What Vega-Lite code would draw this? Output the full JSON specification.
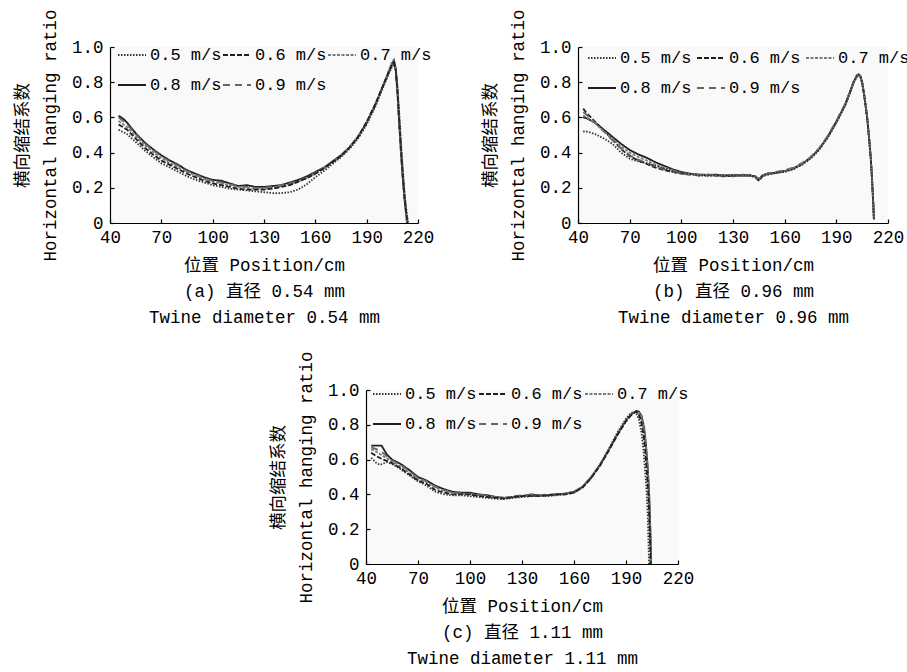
{
  "$schema": "https://vega.github.io/schema/vega-lite/v6.json",
  "autosize": "none",
  "padding": {"left": 110, "top": 47, "right": 797, "bottom": 625},
  "background": "white",
  "config": {
    "view": {"fill": "#f9f9f9", "stroke": null},
    "font": "Liberation Mono, Noto Sans CJK SC",
    "axis": {
      "grid": false, "domainColor": "#000", "domainWidth": 1.2, "tickColor": "#000", "tickSize": -4, "tickWidth": 1.2,
      "labelFont": "Liberation Mono, Noto Sans CJK SC", "labelFontSize": 17.5, "labelColor": "#000",
      "titleFont": "Liberation Mono, Noto Sans CJK SC", "titleFontSize": 17.5, "titleFontWeight": "normal", "titleColor": "#000"
    },
    "axisX": {"labelPadding": 9, "titlePadding": 11, "titleLineHeight": 26, "labelFlush": false},
    "axisY": {"labelPadding": 11, "titlePadding": 12, "titleLineHeight": 28},
    "legend": {
      "orient": "none", "direction": "horizontal", "columns": 3, "symbolType": "stroke", "symbolSize": 784,
      "symbolStrokeWidth": 1.8, "labelFont": "Liberation Mono, Noto Sans CJK SC", "labelFontSize": 17, "labelColor": "#000",
      "labelOffset": 3, "columnPadding": 3, "rowPadding": 7, "padding": 0, "title": null
    },
    "line": {"strokeWidth": 1.8}
  },
  "datasets": {
    "a": [
      {"s":"0.8 m/s","x":45,"y":0.61},{"s":"0.8 m/s","x":48,"y":0.59},{"s":"0.8 m/s","x":50,"y":0.57},{"s":"0.8 m/s","x":55,"y":0.51},{"s":"0.8 m/s","x":60,"y":0.46},{"s":"0.8 m/s","x":65,"y":0.42},{"s":"0.8 m/s","x":70,"y":0.385},{"s":"0.8 m/s","x":75,"y":0.355},{"s":"0.8 m/s","x":80,"y":0.33},{"s":"0.8 m/s","x":85,"y":0.3},{"s":"0.8 m/s","x":90,"y":0.28},{"s":"0.8 m/s","x":95,"y":0.26},{"s":"0.8 m/s","x":100,"y":0.245},{"s":"0.8 m/s","x":105,"y":0.24},{"s":"0.8 m/s","x":110,"y":0.225},{"s":"0.8 m/s","x":115,"y":0.21},{"s":"0.8 m/s","x":120,"y":0.215},{"s":"0.8 m/s","x":125,"y":0.205},{"s":"0.8 m/s","x":130,"y":0.205},{"s":"0.8 m/s","x":135,"y":0.21},{"s":"0.8 m/s","x":140,"y":0.215},{"s":"0.8 m/s","x":145,"y":0.23},{"s":"0.8 m/s","x":150,"y":0.245},{"s":"0.8 m/s","x":155,"y":0.265},{"s":"0.8 m/s","x":160,"y":0.29},{"s":"0.8 m/s","x":165,"y":0.315},{"s":"0.8 m/s","x":170,"y":0.35},{"s":"0.8 m/s","x":175,"y":0.385},{"s":"0.8 m/s","x":180,"y":0.43},{"s":"0.8 m/s","x":185,"y":0.49},{"s":"0.8 m/s","x":190,"y":0.57},{"s":"0.8 m/s","x":195,"y":0.67},{"s":"0.8 m/s","x":200,"y":0.79},{"s":"0.8 m/s","x":203,"y":0.86},{"s":"0.8 m/s","x":205,"y":0.91},{"s":"0.8 m/s","x":206,"y":0.92},{"s":"0.8 m/s","x":207,"y":0.87},{"s":"0.8 m/s","x":208,"y":0.74},{"s":"0.8 m/s","x":209,"y":0.57},{"s":"0.8 m/s","x":210,"y":0.41},{"s":"0.8 m/s","x":211,"y":0.27},{"s":"0.8 m/s","x":212,"y":0.15},{"s":"0.8 m/s","x":213,"y":0.06},{"s":"0.8 m/s","x":213.7,"y":0},
      {"s":"0.9 m/s","x":45,"y":0.6},{"s":"0.9 m/s","x":50,"y":0.56},{"s":"0.9 m/s","x":55,"y":0.505},{"s":"0.9 m/s","x":60,"y":0.455},{"s":"0.9 m/s","x":65,"y":0.415},{"s":"0.9 m/s","x":70,"y":0.38},{"s":"0.9 m/s","x":75,"y":0.35},{"s":"0.9 m/s","x":80,"y":0.325},{"s":"0.9 m/s","x":85,"y":0.295},{"s":"0.9 m/s","x":90,"y":0.275},{"s":"0.9 m/s","x":95,"y":0.255},{"s":"0.9 m/s","x":100,"y":0.24},{"s":"0.9 m/s","x":105,"y":0.23},{"s":"0.9 m/s","x":110,"y":0.22},{"s":"0.9 m/s","x":115,"y":0.21},{"s":"0.9 m/s","x":120,"y":0.205},{"s":"0.9 m/s","x":125,"y":0.2},{"s":"0.9 m/s","x":130,"y":0.2},{"s":"0.9 m/s","x":135,"y":0.205},{"s":"0.9 m/s","x":140,"y":0.215},{"s":"0.9 m/s","x":145,"y":0.225},{"s":"0.9 m/s","x":150,"y":0.24},{"s":"0.9 m/s","x":155,"y":0.26},{"s":"0.9 m/s","x":160,"y":0.285},{"s":"0.9 m/s","x":165,"y":0.315},{"s":"0.9 m/s","x":170,"y":0.345},{"s":"0.9 m/s","x":175,"y":0.385},{"s":"0.9 m/s","x":180,"y":0.43},{"s":"0.9 m/s","x":185,"y":0.49},{"s":"0.9 m/s","x":190,"y":0.57},{"s":"0.9 m/s","x":195,"y":0.67},{"s":"0.9 m/s","x":200,"y":0.79},{"s":"0.9 m/s","x":203,"y":0.86},{"s":"0.9 m/s","x":205,"y":0.9},{"s":"0.9 m/s","x":206,"y":0.91},{"s":"0.9 m/s","x":207,"y":0.86},{"s":"0.9 m/s","x":208,"y":0.73},{"s":"0.9 m/s","x":209,"y":0.56},{"s":"0.9 m/s","x":210,"y":0.4},{"s":"0.9 m/s","x":211,"y":0.26},{"s":"0.9 m/s","x":212,"y":0.14},{"s":"0.9 m/s","x":213,"y":0.05},{"s":"0.9 m/s","x":213.5,"y":0},
      {"s":"0.7 m/s","x":45,"y":0.58},{"s":"0.7 m/s","x":50,"y":0.545},{"s":"0.7 m/s","x":55,"y":0.495},{"s":"0.7 m/s","x":60,"y":0.445},{"s":"0.7 m/s","x":65,"y":0.405},{"s":"0.7 m/s","x":70,"y":0.37},{"s":"0.7 m/s","x":75,"y":0.34},{"s":"0.7 m/s","x":80,"y":0.315},{"s":"0.7 m/s","x":85,"y":0.29},{"s":"0.7 m/s","x":90,"y":0.27},{"s":"0.7 m/s","x":95,"y":0.25},{"s":"0.7 m/s","x":100,"y":0.235},{"s":"0.7 m/s","x":105,"y":0.225},{"s":"0.7 m/s","x":110,"y":0.215},{"s":"0.7 m/s","x":115,"y":0.205},{"s":"0.7 m/s","x":120,"y":0.2},{"s":"0.7 m/s","x":125,"y":0.195},{"s":"0.7 m/s","x":130,"y":0.195},{"s":"0.7 m/s","x":135,"y":0.2},{"s":"0.7 m/s","x":140,"y":0.21},{"s":"0.7 m/s","x":145,"y":0.22},{"s":"0.7 m/s","x":150,"y":0.235},{"s":"0.7 m/s","x":155,"y":0.255},{"s":"0.7 m/s","x":160,"y":0.28},{"s":"0.7 m/s","x":165,"y":0.31},{"s":"0.7 m/s","x":170,"y":0.345},{"s":"0.7 m/s","x":175,"y":0.38},{"s":"0.7 m/s","x":180,"y":0.43},{"s":"0.7 m/s","x":185,"y":0.49},{"s":"0.7 m/s","x":190,"y":0.57},{"s":"0.7 m/s","x":195,"y":0.67},{"s":"0.7 m/s","x":200,"y":0.79},{"s":"0.7 m/s","x":203,"y":0.87},{"s":"0.7 m/s","x":205,"y":0.92},{"s":"0.7 m/s","x":206,"y":0.93},{"s":"0.7 m/s","x":207,"y":0.88},{"s":"0.7 m/s","x":208,"y":0.76},{"s":"0.7 m/s","x":209,"y":0.6},{"s":"0.7 m/s","x":210,"y":0.44},{"s":"0.7 m/s","x":211,"y":0.3},{"s":"0.7 m/s","x":212,"y":0.17},{"s":"0.7 m/s","x":213,"y":0.07},{"s":"0.7 m/s","x":214,"y":0},
      {"s":"0.6 m/s","x":45,"y":0.56},{"s":"0.6 m/s","x":50,"y":0.53},{"s":"0.6 m/s","x":55,"y":0.48},{"s":"0.6 m/s","x":60,"y":0.43},{"s":"0.6 m/s","x":65,"y":0.39},{"s":"0.6 m/s","x":70,"y":0.355},{"s":"0.6 m/s","x":75,"y":0.33},{"s":"0.6 m/s","x":80,"y":0.305},{"s":"0.6 m/s","x":85,"y":0.28},{"s":"0.6 m/s","x":90,"y":0.26},{"s":"0.6 m/s","x":95,"y":0.24},{"s":"0.6 m/s","x":100,"y":0.225},{"s":"0.6 m/s","x":105,"y":0.215},{"s":"0.6 m/s","x":110,"y":0.205},{"s":"0.6 m/s","x":115,"y":0.195},{"s":"0.6 m/s","x":120,"y":0.19},{"s":"0.6 m/s","x":125,"y":0.19},{"s":"0.6 m/s","x":130,"y":0.19},{"s":"0.6 m/s","x":135,"y":0.195},{"s":"0.6 m/s","x":140,"y":0.205},{"s":"0.6 m/s","x":145,"y":0.215},{"s":"0.6 m/s","x":150,"y":0.235},{"s":"0.6 m/s","x":155,"y":0.255},{"s":"0.6 m/s","x":160,"y":0.28},{"s":"0.6 m/s","x":165,"y":0.31},{"s":"0.6 m/s","x":170,"y":0.345},{"s":"0.6 m/s","x":175,"y":0.38},{"s":"0.6 m/s","x":180,"y":0.43},{"s":"0.6 m/s","x":185,"y":0.49},{"s":"0.6 m/s","x":190,"y":0.575},{"s":"0.6 m/s","x":195,"y":0.675},{"s":"0.6 m/s","x":200,"y":0.79},{"s":"0.6 m/s","x":203,"y":0.86},{"s":"0.6 m/s","x":205,"y":0.9},{"s":"0.6 m/s","x":206,"y":0.91},{"s":"0.6 m/s","x":207,"y":0.87},{"s":"0.6 m/s","x":208,"y":0.75},{"s":"0.6 m/s","x":209,"y":0.59},{"s":"0.6 m/s","x":210,"y":0.43},{"s":"0.6 m/s","x":211,"y":0.29},{"s":"0.6 m/s","x":212,"y":0.16},{"s":"0.6 m/s","x":213,"y":0.07},{"s":"0.6 m/s","x":213.8,"y":0},
      {"s":"0.5 m/s","x":45,"y":0.53},{"s":"0.5 m/s","x":50,"y":0.505},{"s":"0.5 m/s","x":55,"y":0.46},{"s":"0.5 m/s","x":60,"y":0.415},{"s":"0.5 m/s","x":65,"y":0.375},{"s":"0.5 m/s","x":70,"y":0.34},{"s":"0.5 m/s","x":75,"y":0.315},{"s":"0.5 m/s","x":80,"y":0.29},{"s":"0.5 m/s","x":85,"y":0.265},{"s":"0.5 m/s","x":90,"y":0.245},{"s":"0.5 m/s","x":95,"y":0.23},{"s":"0.5 m/s","x":100,"y":0.215},{"s":"0.5 m/s","x":105,"y":0.205},{"s":"0.5 m/s","x":110,"y":0.195},{"s":"0.5 m/s","x":115,"y":0.19},{"s":"0.5 m/s","x":120,"y":0.185},{"s":"0.5 m/s","x":125,"y":0.18},{"s":"0.5 m/s","x":130,"y":0.175},{"s":"0.5 m/s","x":135,"y":0.17},{"s":"0.5 m/s","x":140,"y":0.17},{"s":"0.5 m/s","x":145,"y":0.175},{"s":"0.5 m/s","x":150,"y":0.19},{"s":"0.5 m/s","x":155,"y":0.22},{"s":"0.5 m/s","x":160,"y":0.26},{"s":"0.5 m/s","x":165,"y":0.295},{"s":"0.5 m/s","x":170,"y":0.335},{"s":"0.5 m/s","x":175,"y":0.375},{"s":"0.5 m/s","x":180,"y":0.42},{"s":"0.5 m/s","x":185,"y":0.48},{"s":"0.5 m/s","x":190,"y":0.56},{"s":"0.5 m/s","x":195,"y":0.66},{"s":"0.5 m/s","x":200,"y":0.78},{"s":"0.5 m/s","x":203,"y":0.85},{"s":"0.5 m/s","x":205,"y":0.89},{"s":"0.5 m/s","x":206,"y":0.9},{"s":"0.5 m/s","x":207,"y":0.88},{"s":"0.5 m/s","x":208,"y":0.78},{"s":"0.5 m/s","x":209,"y":0.63},{"s":"0.5 m/s","x":210,"y":0.47},{"s":"0.5 m/s","x":211,"y":0.32},{"s":"0.5 m/s","x":212,"y":0.19},{"s":"0.5 m/s","x":213,"y":0.09},{"s":"0.5 m/s","x":214,"y":0.02},{"s":"0.5 m/s","x":214.3,"y":0}
    ],
    "b": [
      {"s":"0.8 m/s","x":43,"y":0.6},{"s":"0.8 m/s","x":45,"y":0.595},{"s":"0.8 m/s","x":50,"y":0.57},{"s":"0.8 m/s","x":55,"y":0.53},{"s":"0.8 m/s","x":60,"y":0.49},{"s":"0.8 m/s","x":65,"y":0.45},{"s":"0.8 m/s","x":70,"y":0.415},{"s":"0.8 m/s","x":75,"y":0.39},{"s":"0.8 m/s","x":80,"y":0.37},{"s":"0.8 m/s","x":85,"y":0.345},{"s":"0.8 m/s","x":90,"y":0.325},{"s":"0.8 m/s","x":95,"y":0.305},{"s":"0.8 m/s","x":100,"y":0.29},{"s":"0.8 m/s","x":105,"y":0.28},{"s":"0.8 m/s","x":110,"y":0.275},{"s":"0.8 m/s","x":115,"y":0.27},{"s":"0.8 m/s","x":120,"y":0.275},{"s":"0.8 m/s","x":125,"y":0.27},{"s":"0.8 m/s","x":130,"y":0.27},{"s":"0.8 m/s","x":135,"y":0.27},{"s":"0.8 m/s","x":140,"y":0.27},{"s":"0.8 m/s","x":143,"y":0.265},{"s":"0.8 m/s","x":145,"y":0.245},{"s":"0.8 m/s","x":147,"y":0.27},{"s":"0.8 m/s","x":150,"y":0.28},{"s":"0.8 m/s","x":155,"y":0.285},{"s":"0.8 m/s","x":160,"y":0.295},{"s":"0.8 m/s","x":165,"y":0.31},{"s":"0.8 m/s","x":170,"y":0.335},{"s":"0.8 m/s","x":175,"y":0.37},{"s":"0.8 m/s","x":180,"y":0.42},{"s":"0.8 m/s","x":185,"y":0.49},{"s":"0.8 m/s","x":190,"y":0.575},{"s":"0.8 m/s","x":195,"y":0.67},{"s":"0.8 m/s","x":198,"y":0.745},{"s":"0.8 m/s","x":200,"y":0.8},{"s":"0.8 m/s","x":202,"y":0.84},{"s":"0.8 m/s","x":203,"y":0.845},{"s":"0.8 m/s","x":204,"y":0.835},{"s":"0.8 m/s","x":205,"y":0.8},{"s":"0.8 m/s","x":206,"y":0.74},{"s":"0.8 m/s","x":207,"y":0.67},{"s":"0.8 m/s","x":208,"y":0.59},{"s":"0.8 m/s","x":209,"y":0.49},{"s":"0.8 m/s","x":210,"y":0.37},{"s":"0.8 m/s","x":210.5,"y":0.29},{"s":"0.8 m/s","x":211,"y":0.2},{"s":"0.8 m/s","x":211.5,"y":0.1},{"s":"0.8 m/s","x":211.8,"y":0.03},
      {"s":"0.6 m/s","x":43,"y":0.65},{"s":"0.6 m/s","x":45,"y":0.625},{"s":"0.6 m/s","x":50,"y":0.575},{"s":"0.6 m/s","x":55,"y":0.525},{"s":"0.6 m/s","x":60,"y":0.475},{"s":"0.6 m/s","x":65,"y":0.42},{"s":"0.6 m/s","x":70,"y":0.38},{"s":"0.6 m/s","x":75,"y":0.355},{"s":"0.6 m/s","x":80,"y":0.335},{"s":"0.6 m/s","x":85,"y":0.315},{"s":"0.6 m/s","x":90,"y":0.3},{"s":"0.6 m/s","x":95,"y":0.29},{"s":"0.6 m/s","x":100,"y":0.28},{"s":"0.6 m/s","x":105,"y":0.275},{"s":"0.6 m/s","x":110,"y":0.275},{"s":"0.6 m/s","x":115,"y":0.275},{"s":"0.6 m/s","x":120,"y":0.27},{"s":"0.6 m/s","x":125,"y":0.265},{"s":"0.6 m/s","x":130,"y":0.27},{"s":"0.6 m/s","x":135,"y":0.275},{"s":"0.6 m/s","x":140,"y":0.27},{"s":"0.6 m/s","x":143,"y":0.26},{"s":"0.6 m/s","x":145,"y":0.24},{"s":"0.6 m/s","x":147,"y":0.265},{"s":"0.6 m/s","x":150,"y":0.28},{"s":"0.6 m/s","x":155,"y":0.285},{"s":"0.6 m/s","x":160,"y":0.295},{"s":"0.6 m/s","x":165,"y":0.31},{"s":"0.6 m/s","x":170,"y":0.335},{"s":"0.6 m/s","x":175,"y":0.37},{"s":"0.6 m/s","x":180,"y":0.42},{"s":"0.6 m/s","x":185,"y":0.49},{"s":"0.6 m/s","x":190,"y":0.575},{"s":"0.6 m/s","x":195,"y":0.67},{"s":"0.6 m/s","x":198,"y":0.745},{"s":"0.6 m/s","x":200,"y":0.8},{"s":"0.6 m/s","x":202,"y":0.835},{"s":"0.6 m/s","x":203,"y":0.84},{"s":"0.6 m/s","x":204,"y":0.83},{"s":"0.6 m/s","x":205,"y":0.795},{"s":"0.6 m/s","x":206,"y":0.735},{"s":"0.6 m/s","x":207,"y":0.665},{"s":"0.6 m/s","x":208,"y":0.585},{"s":"0.6 m/s","x":209,"y":0.48},{"s":"0.6 m/s","x":210,"y":0.36},{"s":"0.6 m/s","x":210.5,"y":0.28},{"s":"0.6 m/s","x":211,"y":0.19},{"s":"0.6 m/s","x":211.5,"y":0.09},{"s":"0.6 m/s","x":211.8,"y":0.02},
      {"s":"0.9 m/s","x":43,"y":0.63},{"s":"0.9 m/s","x":45,"y":0.615},{"s":"0.9 m/s","x":50,"y":0.57},{"s":"0.9 m/s","x":55,"y":0.52},{"s":"0.9 m/s","x":60,"y":0.47},{"s":"0.9 m/s","x":65,"y":0.425},{"s":"0.9 m/s","x":70,"y":0.385},{"s":"0.9 m/s","x":75,"y":0.36},{"s":"0.9 m/s","x":80,"y":0.34},{"s":"0.9 m/s","x":85,"y":0.32},{"s":"0.9 m/s","x":90,"y":0.305},{"s":"0.9 m/s","x":95,"y":0.29},{"s":"0.9 m/s","x":100,"y":0.28},{"s":"0.9 m/s","x":105,"y":0.275},{"s":"0.9 m/s","x":110,"y":0.27},{"s":"0.9 m/s","x":115,"y":0.275},{"s":"0.9 m/s","x":120,"y":0.275},{"s":"0.9 m/s","x":125,"y":0.27},{"s":"0.9 m/s","x":130,"y":0.265},{"s":"0.9 m/s","x":135,"y":0.27},{"s":"0.9 m/s","x":140,"y":0.275},{"s":"0.9 m/s","x":143,"y":0.265},{"s":"0.9 m/s","x":145,"y":0.25},{"s":"0.9 m/s","x":147,"y":0.27},{"s":"0.9 m/s","x":150,"y":0.28},{"s":"0.9 m/s","x":155,"y":0.29},{"s":"0.9 m/s","x":160,"y":0.3},{"s":"0.9 m/s","x":165,"y":0.315},{"s":"0.9 m/s","x":170,"y":0.34},{"s":"0.9 m/s","x":175,"y":0.375},{"s":"0.9 m/s","x":180,"y":0.425},{"s":"0.9 m/s","x":185,"y":0.495},{"s":"0.9 m/s","x":190,"y":0.58},{"s":"0.9 m/s","x":195,"y":0.675},{"s":"0.9 m/s","x":198,"y":0.75},{"s":"0.9 m/s","x":200,"y":0.805},{"s":"0.9 m/s","x":202,"y":0.84},{"s":"0.9 m/s","x":203,"y":0.845},{"s":"0.9 m/s","x":204,"y":0.835},{"s":"0.9 m/s","x":205,"y":0.8},{"s":"0.9 m/s","x":206,"y":0.745},{"s":"0.9 m/s","x":207,"y":0.675},{"s":"0.9 m/s","x":208,"y":0.595},{"s":"0.9 m/s","x":209,"y":0.495},{"s":"0.9 m/s","x":210,"y":0.375},{"s":"0.9 m/s","x":210.5,"y":0.295},{"s":"0.9 m/s","x":211,"y":0.205},{"s":"0.9 m/s","x":211.5,"y":0.11},{"s":"0.9 m/s","x":211.9,"y":0.03},
      {"s":"0.7 m/s","x":43,"y":0.61},{"s":"0.7 m/s","x":45,"y":0.6},{"s":"0.7 m/s","x":50,"y":0.565},{"s":"0.7 m/s","x":55,"y":0.52},{"s":"0.7 m/s","x":60,"y":0.48},{"s":"0.7 m/s","x":65,"y":0.435},{"s":"0.7 m/s","x":70,"y":0.4},{"s":"0.7 m/s","x":75,"y":0.375},{"s":"0.7 m/s","x":80,"y":0.355},{"s":"0.7 m/s","x":85,"y":0.33},{"s":"0.7 m/s","x":90,"y":0.315},{"s":"0.7 m/s","x":95,"y":0.3},{"s":"0.7 m/s","x":100,"y":0.285},{"s":"0.7 m/s","x":105,"y":0.28},{"s":"0.7 m/s","x":110,"y":0.275},{"s":"0.7 m/s","x":115,"y":0.27},{"s":"0.7 m/s","x":120,"y":0.27},{"s":"0.7 m/s","x":125,"y":0.27},{"s":"0.7 m/s","x":130,"y":0.275},{"s":"0.7 m/s","x":135,"y":0.27},{"s":"0.7 m/s","x":140,"y":0.27},{"s":"0.7 m/s","x":143,"y":0.26},{"s":"0.7 m/s","x":145,"y":0.25},{"s":"0.7 m/s","x":147,"y":0.265},{"s":"0.7 m/s","x":150,"y":0.275},{"s":"0.7 m/s","x":155,"y":0.285},{"s":"0.7 m/s","x":160,"y":0.295},{"s":"0.7 m/s","x":165,"y":0.31},{"s":"0.7 m/s","x":170,"y":0.335},{"s":"0.7 m/s","x":175,"y":0.37},{"s":"0.7 m/s","x":180,"y":0.42},{"s":"0.7 m/s","x":185,"y":0.485},{"s":"0.7 m/s","x":190,"y":0.57},{"s":"0.7 m/s","x":195,"y":0.665},{"s":"0.7 m/s","x":198,"y":0.74},{"s":"0.7 m/s","x":200,"y":0.795},{"s":"0.7 m/s","x":202,"y":0.835},{"s":"0.7 m/s","x":203,"y":0.84},{"s":"0.7 m/s","x":204,"y":0.83},{"s":"0.7 m/s","x":205,"y":0.795},{"s":"0.7 m/s","x":206,"y":0.74},{"s":"0.7 m/s","x":207,"y":0.67},{"s":"0.7 m/s","x":208,"y":0.59},{"s":"0.7 m/s","x":209,"y":0.49},{"s":"0.7 m/s","x":210,"y":0.37},{"s":"0.7 m/s","x":210.5,"y":0.29},{"s":"0.7 m/s","x":211,"y":0.2},{"s":"0.7 m/s","x":211.5,"y":0.1},{"s":"0.7 m/s","x":211.8,"y":0.03},
      {"s":"0.5 m/s","x":43,"y":0.52},{"s":"0.5 m/s","x":45,"y":0.52},{"s":"0.5 m/s","x":50,"y":0.505},{"s":"0.5 m/s","x":55,"y":0.48},{"s":"0.5 m/s","x":60,"y":0.45},{"s":"0.5 m/s","x":65,"y":0.4},{"s":"0.5 m/s","x":70,"y":0.365},{"s":"0.5 m/s","x":75,"y":0.35},{"s":"0.5 m/s","x":80,"y":0.34},{"s":"0.5 m/s","x":85,"y":0.325},{"s":"0.5 m/s","x":90,"y":0.31},{"s":"0.5 m/s","x":95,"y":0.295},{"s":"0.5 m/s","x":100,"y":0.285},{"s":"0.5 m/s","x":105,"y":0.28},{"s":"0.5 m/s","x":110,"y":0.27},{"s":"0.5 m/s","x":115,"y":0.27},{"s":"0.5 m/s","x":120,"y":0.27},{"s":"0.5 m/s","x":125,"y":0.27},{"s":"0.5 m/s","x":130,"y":0.27},{"s":"0.5 m/s","x":135,"y":0.27},{"s":"0.5 m/s","x":140,"y":0.27},{"s":"0.5 m/s","x":143,"y":0.26},{"s":"0.5 m/s","x":145,"y":0.245},{"s":"0.5 m/s","x":147,"y":0.265},{"s":"0.5 m/s","x":150,"y":0.275},{"s":"0.5 m/s","x":155,"y":0.285},{"s":"0.5 m/s","x":160,"y":0.29},{"s":"0.5 m/s","x":165,"y":0.305},{"s":"0.5 m/s","x":170,"y":0.33},{"s":"0.5 m/s","x":175,"y":0.365},{"s":"0.5 m/s","x":180,"y":0.415},{"s":"0.5 m/s","x":185,"y":0.485},{"s":"0.5 m/s","x":190,"y":0.57},{"s":"0.5 m/s","x":195,"y":0.665},{"s":"0.5 m/s","x":198,"y":0.74},{"s":"0.5 m/s","x":200,"y":0.795},{"s":"0.5 m/s","x":202,"y":0.835},{"s":"0.5 m/s","x":203,"y":0.84},{"s":"0.5 m/s","x":204,"y":0.83},{"s":"0.5 m/s","x":205,"y":0.795},{"s":"0.5 m/s","x":206,"y":0.735},{"s":"0.5 m/s","x":207,"y":0.665},{"s":"0.5 m/s","x":208,"y":0.585},{"s":"0.5 m/s","x":209,"y":0.485},{"s":"0.5 m/s","x":210,"y":0.365},{"s":"0.5 m/s","x":210.5,"y":0.285},{"s":"0.5 m/s","x":211,"y":0.195},{"s":"0.5 m/s","x":211.5,"y":0.1},{"s":"0.5 m/s","x":211.8,"y":0.02}
    ],
    "c": [
      {"s":"0.8 m/s","x":43,"y":0.68},{"s":"0.8 m/s","x":46,"y":0.68},{"s":"0.8 m/s","x":49,"y":0.68},{"s":"0.8 m/s","x":52,"y":0.63},{"s":"0.8 m/s","x":55,"y":0.6},{"s":"0.8 m/s","x":60,"y":0.575},{"s":"0.8 m/s","x":65,"y":0.54},{"s":"0.8 m/s","x":70,"y":0.5},{"s":"0.8 m/s","x":75,"y":0.48},{"s":"0.8 m/s","x":80,"y":0.45},{"s":"0.8 m/s","x":85,"y":0.43},{"s":"0.8 m/s","x":90,"y":0.415},{"s":"0.8 m/s","x":95,"y":0.41},{"s":"0.8 m/s","x":100,"y":0.41},{"s":"0.8 m/s","x":105,"y":0.4},{"s":"0.8 m/s","x":110,"y":0.395},{"s":"0.8 m/s","x":115,"y":0.385},{"s":"0.8 m/s","x":120,"y":0.38},{"s":"0.8 m/s","x":125,"y":0.385},{"s":"0.8 m/s","x":130,"y":0.39},{"s":"0.8 m/s","x":135,"y":0.4},{"s":"0.8 m/s","x":140,"y":0.395},{"s":"0.8 m/s","x":145,"y":0.395},{"s":"0.8 m/s","x":150,"y":0.4},{"s":"0.8 m/s","x":155,"y":0.405},{"s":"0.8 m/s","x":160,"y":0.415},{"s":"0.8 m/s","x":165,"y":0.445},{"s":"0.8 m/s","x":170,"y":0.5},{"s":"0.8 m/s","x":175,"y":0.57},{"s":"0.8 m/s","x":180,"y":0.655},{"s":"0.8 m/s","x":185,"y":0.745},{"s":"0.8 m/s","x":190,"y":0.825},{"s":"0.8 m/s","x":193,"y":0.86},{"s":"0.8 m/s","x":196,"y":0.88},{"s":"0.8 m/s","x":197.5,"y":0.875},{"s":"0.8 m/s","x":199,"y":0.85},{"s":"0.8 m/s","x":200.5,"y":0.78},{"s":"0.8 m/s","x":201.5,"y":0.69},{"s":"0.8 m/s","x":202.5,"y":0.56},{"s":"0.8 m/s","x":203.3,"y":0.42},{"s":"0.8 m/s","x":203.8,"y":0.28},{"s":"0.8 m/s","x":204.2,"y":0.14},{"s":"0.8 m/s","x":204.5,"y":0},
      {"s":"0.9 m/s","x":43,"y":0.67},{"s":"0.9 m/s","x":46,"y":0.66},{"s":"0.9 m/s","x":49,"y":0.645},{"s":"0.9 m/s","x":52,"y":0.62},{"s":"0.9 m/s","x":55,"y":0.595},{"s":"0.9 m/s","x":60,"y":0.57},{"s":"0.9 m/s","x":65,"y":0.535},{"s":"0.9 m/s","x":70,"y":0.495},{"s":"0.9 m/s","x":75,"y":0.475},{"s":"0.9 m/s","x":80,"y":0.445},{"s":"0.9 m/s","x":85,"y":0.425},{"s":"0.9 m/s","x":90,"y":0.41},{"s":"0.9 m/s","x":95,"y":0.405},{"s":"0.9 m/s","x":100,"y":0.405},{"s":"0.9 m/s","x":105,"y":0.4},{"s":"0.9 m/s","x":110,"y":0.39},{"s":"0.9 m/s","x":115,"y":0.385},{"s":"0.9 m/s","x":120,"y":0.38},{"s":"0.9 m/s","x":125,"y":0.39},{"s":"0.9 m/s","x":130,"y":0.395},{"s":"0.9 m/s","x":135,"y":0.395},{"s":"0.9 m/s","x":140,"y":0.395},{"s":"0.9 m/s","x":145,"y":0.4},{"s":"0.9 m/s","x":150,"y":0.4},{"s":"0.9 m/s","x":155,"y":0.405},{"s":"0.9 m/s","x":160,"y":0.415},{"s":"0.9 m/s","x":165,"y":0.445},{"s":"0.9 m/s","x":170,"y":0.5},{"s":"0.9 m/s","x":175,"y":0.57},{"s":"0.9 m/s","x":180,"y":0.655},{"s":"0.9 m/s","x":185,"y":0.745},{"s":"0.9 m/s","x":190,"y":0.825},{"s":"0.9 m/s","x":193,"y":0.86},{"s":"0.9 m/s","x":196,"y":0.88},{"s":"0.9 m/s","x":197.5,"y":0.87},{"s":"0.9 m/s","x":199,"y":0.84},{"s":"0.9 m/s","x":200.5,"y":0.76},{"s":"0.9 m/s","x":201.5,"y":0.66},{"s":"0.9 m/s","x":202.5,"y":0.52},{"s":"0.9 m/s","x":203.3,"y":0.37},{"s":"0.9 m/s","x":203.8,"y":0.22},{"s":"0.9 m/s","x":204.2,"y":0.08},{"s":"0.9 m/s","x":204.3,"y":0},
      {"s":"0.7 m/s","x":43,"y":0.66},{"s":"0.7 m/s","x":46,"y":0.645},{"s":"0.7 m/s","x":50,"y":0.62},{"s":"0.7 m/s","x":55,"y":0.59},{"s":"0.7 m/s","x":60,"y":0.56},{"s":"0.7 m/s","x":65,"y":0.525},{"s":"0.7 m/s","x":70,"y":0.49},{"s":"0.7 m/s","x":75,"y":0.47},{"s":"0.7 m/s","x":80,"y":0.44},{"s":"0.7 m/s","x":85,"y":0.42},{"s":"0.7 m/s","x":90,"y":0.41},{"s":"0.7 m/s","x":95,"y":0.405},{"s":"0.7 m/s","x":100,"y":0.4},{"s":"0.7 m/s","x":105,"y":0.395},{"s":"0.7 m/s","x":110,"y":0.39},{"s":"0.7 m/s","x":115,"y":0.38},{"s":"0.7 m/s","x":120,"y":0.38},{"s":"0.7 m/s","x":125,"y":0.385},{"s":"0.7 m/s","x":130,"y":0.39},{"s":"0.7 m/s","x":135,"y":0.395},{"s":"0.7 m/s","x":140,"y":0.395},{"s":"0.7 m/s","x":145,"y":0.395},{"s":"0.7 m/s","x":150,"y":0.4},{"s":"0.7 m/s","x":155,"y":0.405},{"s":"0.7 m/s","x":160,"y":0.415},{"s":"0.7 m/s","x":165,"y":0.445},{"s":"0.7 m/s","x":170,"y":0.5},{"s":"0.7 m/s","x":175,"y":0.57},{"s":"0.7 m/s","x":180,"y":0.655},{"s":"0.7 m/s","x":185,"y":0.745},{"s":"0.7 m/s","x":190,"y":0.825},{"s":"0.7 m/s","x":193,"y":0.86},{"s":"0.7 m/s","x":196,"y":0.875},{"s":"0.7 m/s","x":197.5,"y":0.87},{"s":"0.7 m/s","x":199,"y":0.84},{"s":"0.7 m/s","x":200.5,"y":0.77},{"s":"0.7 m/s","x":201.5,"y":0.68},{"s":"0.7 m/s","x":202.5,"y":0.55},{"s":"0.7 m/s","x":203.3,"y":0.41},{"s":"0.7 m/s","x":203.8,"y":0.27},{"s":"0.7 m/s","x":204.2,"y":0.13},{"s":"0.7 m/s","x":204.6,"y":0},
      {"s":"0.6 m/s","x":43,"y":0.64},{"s":"0.6 m/s","x":46,"y":0.62},{"s":"0.6 m/s","x":50,"y":0.6},{"s":"0.6 m/s","x":55,"y":0.58},{"s":"0.6 m/s","x":60,"y":0.55},{"s":"0.6 m/s","x":65,"y":0.515},{"s":"0.6 m/s","x":70,"y":0.48},{"s":"0.6 m/s","x":75,"y":0.46},{"s":"0.6 m/s","x":80,"y":0.425},{"s":"0.6 m/s","x":85,"y":0.41},{"s":"0.6 m/s","x":90,"y":0.4},{"s":"0.6 m/s","x":95,"y":0.4},{"s":"0.6 m/s","x":100,"y":0.4},{"s":"0.6 m/s","x":105,"y":0.39},{"s":"0.6 m/s","x":110,"y":0.385},{"s":"0.6 m/s","x":115,"y":0.38},{"s":"0.6 m/s","x":120,"y":0.375},{"s":"0.6 m/s","x":125,"y":0.385},{"s":"0.6 m/s","x":130,"y":0.39},{"s":"0.6 m/s","x":135,"y":0.39},{"s":"0.6 m/s","x":140,"y":0.39},{"s":"0.6 m/s","x":145,"y":0.395},{"s":"0.6 m/s","x":150,"y":0.4},{"s":"0.6 m/s","x":155,"y":0.4},{"s":"0.6 m/s","x":160,"y":0.41},{"s":"0.6 m/s","x":165,"y":0.44},{"s":"0.6 m/s","x":170,"y":0.495},{"s":"0.6 m/s","x":175,"y":0.565},{"s":"0.6 m/s","x":180,"y":0.65},{"s":"0.6 m/s","x":185,"y":0.74},{"s":"0.6 m/s","x":190,"y":0.82},{"s":"0.6 m/s","x":193,"y":0.855},{"s":"0.6 m/s","x":195.5,"y":0.875},{"s":"0.6 m/s","x":197,"y":0.865},{"s":"0.6 m/s","x":198.5,"y":0.83},{"s":"0.6 m/s","x":200,"y":0.75},{"s":"0.6 m/s","x":201,"y":0.66},{"s":"0.6 m/s","x":202,"y":0.53},{"s":"0.6 m/s","x":203,"y":0.38},{"s":"0.6 m/s","x":203.5,"y":0.24},{"s":"0.6 m/s","x":204,"y":0.1},{"s":"0.6 m/s","x":204.2,"y":0},
      {"s":"0.5 m/s","x":43,"y":0.61},{"s":"0.5 m/s","x":46,"y":0.58},{"s":"0.5 m/s","x":48,"y":0.57},{"s":"0.5 m/s","x":52,"y":0.585},{"s":"0.5 m/s","x":55,"y":0.575},{"s":"0.5 m/s","x":60,"y":0.545},{"s":"0.5 m/s","x":65,"y":0.51},{"s":"0.5 m/s","x":70,"y":0.475},{"s":"0.5 m/s","x":75,"y":0.45},{"s":"0.5 m/s","x":80,"y":0.415},{"s":"0.5 m/s","x":85,"y":0.4},{"s":"0.5 m/s","x":90,"y":0.395},{"s":"0.5 m/s","x":95,"y":0.395},{"s":"0.5 m/s","x":100,"y":0.39},{"s":"0.5 m/s","x":105,"y":0.385},{"s":"0.5 m/s","x":110,"y":0.38},{"s":"0.5 m/s","x":115,"y":0.375},{"s":"0.5 m/s","x":120,"y":0.375},{"s":"0.5 m/s","x":125,"y":0.38},{"s":"0.5 m/s","x":130,"y":0.385},{"s":"0.5 m/s","x":135,"y":0.39},{"s":"0.5 m/s","x":140,"y":0.39},{"s":"0.5 m/s","x":145,"y":0.39},{"s":"0.5 m/s","x":150,"y":0.395},{"s":"0.5 m/s","x":155,"y":0.4},{"s":"0.5 m/s","x":160,"y":0.41},{"s":"0.5 m/s","x":165,"y":0.44},{"s":"0.5 m/s","x":170,"y":0.495},{"s":"0.5 m/s","x":175,"y":0.57},{"s":"0.5 m/s","x":180,"y":0.66},{"s":"0.5 m/s","x":185,"y":0.755},{"s":"0.5 m/s","x":190,"y":0.835},{"s":"0.5 m/s","x":192.5,"y":0.865},{"s":"0.5 m/s","x":194.5,"y":0.875},{"s":"0.5 m/s","x":196,"y":0.865},{"s":"0.5 m/s","x":197.5,"y":0.83},{"s":"0.5 m/s","x":199,"y":0.75},{"s":"0.5 m/s","x":200,"y":0.66},{"s":"0.5 m/s","x":201,"y":0.54},{"s":"0.5 m/s","x":202,"y":0.4},{"s":"0.5 m/s","x":202.6,"y":0.26},{"s":"0.5 m/s","x":203,"y":0.12},{"s":"0.5 m/s","x":203.3,"y":0}
    ]
  },
  "bounds": "flush",
  "spacing": 343,
  "vconcat": [
    {
      "bounds": "flush",
      "spacing": 160,
      "hconcat": [
        {
          "width": 308, "height": 176,
          "data": {"name": "a"},
          "mark": {"type": "line", "strokeWidth": 1.8},
          "encoding": {
            "x": {"field": "x", "type": "quantitative", "scale": {"domain": [40, 220], "nice": false},
                  "axis": {"values": [40, 70, 100, 130, 160, 190, 220], "title": ["位置 Position/cm", "(a) 直径 0.54 mm", "Twine diameter 0.54 mm"]}},
            "y": {"field": "y", "type": "quantitative", "scale": {"domain": [0, 1], "nice": false},
                  "axis": {"values": [0, 0.2, 0.4, 0.6, 0.8, 1.0], "labelExpr": "datum.value == 0 ? '0' : format(datum.value, '.1f')", "title": ["横向缩结系数", "Horizontal hanging ratio"]}},
            "strokeDash": {"field": "s", "type": "nominal",
                  "scale": {"domain": ["0.5 m/s", "0.6 m/s", "0.7 m/s", "0.8 m/s", "0.9 m/s"], "range": [[1.5, 1.5], [5, 2], [3, 1.5], [1, 0], [7, 5]]},
                  "legend": {"legendX": 7, "legendY": -7, "columnPadding": -3}},
            "color": {"field": "s", "type": "nominal",
                  "scale": {"domain": ["0.5 m/s", "0.6 m/s", "0.7 m/s", "0.8 m/s", "0.9 m/s"], "range": ["#333333", "#1e1e1e", "#7a7a7a", "#1e1e1e", "#666666"]},
                  "legend": {"legendX": 7, "legendY": -7, "columnPadding": -3}}
          }
        },
        {
          "width": 310, "height": 176,
          "data": {"name": "b"},
          "mark": {"type": "line", "strokeWidth": 1.8},
          "encoding": {
            "x": {"field": "x", "type": "quantitative", "scale": {"domain": [40, 220], "nice": false},
                  "axis": {"values": [40, 70, 100, 130, 160, 190, 220], "title": ["位置 Position/cm", "(b) 直径 0.96 mm", "Twine diameter 0.96 mm"]}},
            "y": {"field": "y", "type": "quantitative", "scale": {"domain": [0, 1], "nice": false},
                  "axis": {"values": [0, 0.2, 0.4, 0.6, 0.8, 1.0], "labelExpr": "datum.value == 0 ? '0' : format(datum.value, '.1f')", "title": ["横向缩结系数", "Horizontal hanging ratio"]}},
            "strokeDash": {"field": "s", "type": "nominal",
                  "scale": {"domain": ["0.5 m/s", "0.6 m/s", "0.7 m/s", "0.8 m/s", "0.9 m/s"], "range": [[1.5, 1.5], [5, 2], [3, 1.5], [1, 0], [7, 5]]},
                  "legend": {"legendX": 9, "legendY": -4, "columnPadding": 1}},
            "color": {"field": "s", "type": "nominal",
                  "scale": {"domain": ["0.5 m/s", "0.6 m/s", "0.7 m/s", "0.8 m/s", "0.9 m/s"], "range": ["#333333", "#1e1e1e", "#7a7a7a", "#1e1e1e", "#666666"]},
                  "legend": {"legendX": 9, "legendY": -4, "columnPadding": 1}}
          }
        }
      ],
      "resolve": {"scale": {"color": "independent", "strokeDash": "independent"}, "legend": {"color": "independent", "strokeDash": "independent"}}
    },
    {
      "bounds": "flush",
      "spacing": 56,
      "hconcat": [
        {
          "width": 200, "height": 174,
          "view": {"fill": null, "stroke": null},
          "data": {"values": []},
          "mark": "point"
        },
        {
          "width": 312, "height": 174,
          "data": {"name": "c"},
          "mark": {"type": "line", "strokeWidth": 1.8},
          "encoding": {
            "x": {"field": "x", "type": "quantitative", "scale": {"domain": [40, 220], "nice": false},
                  "axis": {"values": [40, 70, 100, 130, 160, 190, 220], "title": ["位置 Position/cm", "(c) 直径 1.11 mm", "Twine diameter 1.11 mm"]}},
            "y": {"field": "y", "type": "quantitative", "scale": {"domain": [0, 1], "nice": false},
                  "axis": {"values": [0, 0.2, 0.4, 0.6, 0.8, 1.0], "labelExpr": "datum.value == 0 ? '0' : format(datum.value, '.1f')", "title": ["横向缩结系数", "Horizontal hanging ratio"]}},
            "strokeDash": {"field": "s", "type": "nominal",
                  "scale": {"domain": ["0.5 m/s", "0.6 m/s", "0.7 m/s", "0.8 m/s", "0.9 m/s"], "range": [[1.5, 1.5], [5, 2], [3, 1.5], [1, 0], [7, 5]]},
                  "legend": {"legendX": 6, "legendY": -11, "columnPadding": -2}},
            "color": {"field": "s", "type": "nominal",
                  "scale": {"domain": ["0.5 m/s", "0.6 m/s", "0.7 m/s", "0.8 m/s", "0.9 m/s"], "range": ["#333333", "#1e1e1e", "#7a7a7a", "#1e1e1e", "#666666"]},
                  "legend": {"legendX": 6, "legendY": -11, "columnPadding": -2}}
          }
        }
      ],
      "resolve": {"scale": {"color": "independent", "strokeDash": "independent"}, "legend": {"color": "independent", "strokeDash": "independent"}}
    }
  ],
  "resolve": {"scale": {"color": "independent", "strokeDash": "independent"}, "legend": {"color": "independent", "strokeDash": "independent"}}
}
